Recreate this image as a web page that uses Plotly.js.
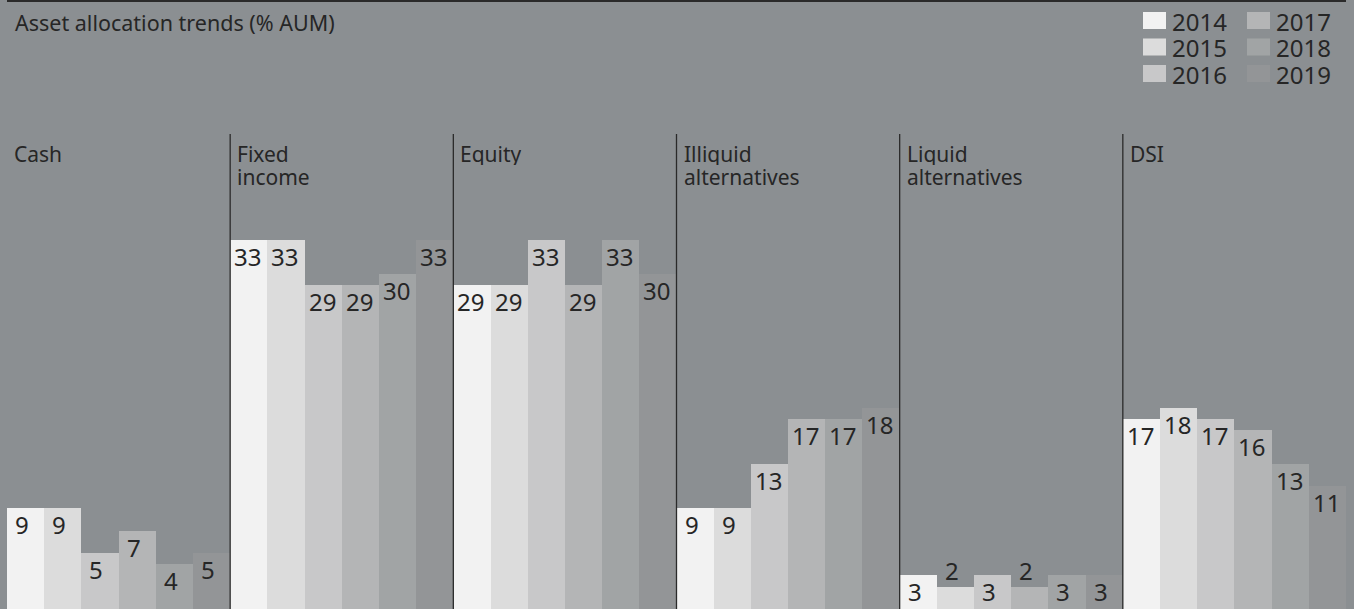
<!DOCTYPE html>
<html>
<head>
<meta charset="utf-8">
<script src="https://cdn.plot.ly/plotly-3.0.1.min.js"></script>
<style>
  html, body { margin: 0; padding: 0; background: #8b8f92; }
  #chart { width: 1354px; height: 609px; }
</style>
</head>
<body>
<div id="chart"></div>
<script>
// ---- data ----
const categories = ["Cash", "Fixed income", "Equity", "Illiquid alternatives", "Liquid alternatives", "DSI"];
const categoryLines = [["Cash"], ["Fixed", "income"], ["Equity"], ["Illiquid", "alternatives"], ["Liquid", "alternatives"], ["DSI"]];
const years = ["2014", "2015", "2016", "2017", "2018", "2019"];
const v2014 = [9, 33, 29, 9, 3, 17];
const v2015 = [9, 33, 29, 9, 2, 18];
const v2016 = [5, 29, 33, 13, 3, 17];
const v2017 = [7, 29, 29, 17, 2, 16];
const v2018 = [4, 30, 33, 17, 3, 13];
const v2019 = [5, 33, 30, 18, 3, 11];
const series = [v2014, v2015, v2016, v2017, v2018, v2019];

// ---- styling ----
const colors = ["#f2f2f2", "#dcdcdc", "#c8c8c9", "#b4b5b6", "#a1a4a5", "#939597"];
const bg = "#8b8f92";
const ink = "#262626";
const FONT = "Noto Sans, Open Sans, sans-serif";
const W = 1354, H = 609, ML = 7, MR = 8;
const PW = W - ML - MR;
const YMAX = 54.5;
const px2x = p => (p - ML) / PW;
const py2y = p => 1 - p / H;

const traces = series.map((vals, i) => ({
  type: "bar",
  name: years[i],
  x: categories,
  y: vals,
  marker: { color: colors[i], line: { width: 0 } },
  hoverinfo: "skip",
  showlegend: false
}));

const annotations = [];
const shapes = [];

// title
annotations.push({
  text: "Asset allocation trends (% AUM)",
  xref: "paper", yref: "paper", x: px2x(13), y: py2y(23),
  xanchor: "left", yanchor: "middle", showarrow: false,
  font: { family: FONT, size: 21.5, color: ink }
});

// panel labels (one annotation per line for tight line spacing)
categoryLines.forEach((lines, j) => {
  lines.forEach((ln, k) => {
    annotations.push({
      text: ln, xref: "x", yref: "paper", x: j - 0.5, y: py2y(154 + 23 * k),
      xanchor: "left", yanchor: "middle", xshift: 5, showarrow: false, height: 22,
      font: { family: FONT, size: 21, color: ink }
    });
  });
});

// bar value labels
const n = series.length;
series.forEach((vals, i) => {
  vals.forEach((v, j) => {
    const inside = v >= 2.5;
    annotations.push({
      text: String(v), xref: "x", yref: "y",
      x: j - 0.5 + i / n, y: v,
      xanchor: "left", yanchor: inside ? "top" : "bottom",
      xshift: v >= 10 ? 2 : 6, yshift: inside ? 2 : -2,
      showarrow: false,
      font: { family: FONT, size: 24, color: ink }
    });
  });
});

// panel dividers
for (let j = 0; j < categories.length - 1; j++) {
  shapes.push({
    type: "line", xref: "x", yref: "paper",
    x0: j + 0.5, x1: j + 0.5, y0: 0, y1: py2y(134),
    line: { color: "#2a2a2a", width: 1.3 }
  });
}

// top rule
shapes.push({
  type: "line", xref: "paper", yref: "paper",
  x0: 0, x1: 1, y0: py2y(1), y1: py2y(1),
  line: { color: "#2a2a2a", width: 2 }
});

// legend (two columns)
const legCols = [1143, 1247];
const legRows = [12, 38.5, 65];
years.forEach((yr, i) => {
  const c = Math.floor(i / 3), r = i % 3;
  const sx = legCols[c], sy = legRows[r];
  shapes.push({
    type: "rect", xref: "paper", yref: "paper",
    x0: px2x(sx), x1: px2x(sx + 23), y0: py2y(sy + 17), y1: py2y(sy),
    fillcolor: colors[i], line: { width: 0 }
  });
  annotations.push({
    text: yr, xref: "paper", yref: "paper",
    x: px2x(sx + 27), y: py2y(sy + 8.5),
    xanchor: "left", yanchor: "middle", showarrow: false, height: 24,
    font: { family: FONT, size: 24, color: ink }
  });
});

const layout = {
  width: W, height: H,
  margin: { l: ML, r: MR, t: 0, b: 0, pad: 0 },
  paper_bgcolor: bg, plot_bgcolor: bg,
  barmode: "group", bargap: 0, bargroupgap: 0,
  xaxis: { type: "category", range: [-0.5, 5.5], visible: false, fixedrange: true },
  yaxis: { range: [0, YMAX], visible: false, fixedrange: true },
  showlegend: false,
  annotations, shapes,
  font: { family: FONT, color: ink }
};

Plotly.newPlot("chart", traces, layout, { displayModeBar: false, staticPlot: true });
</script>
</body>
</html>
